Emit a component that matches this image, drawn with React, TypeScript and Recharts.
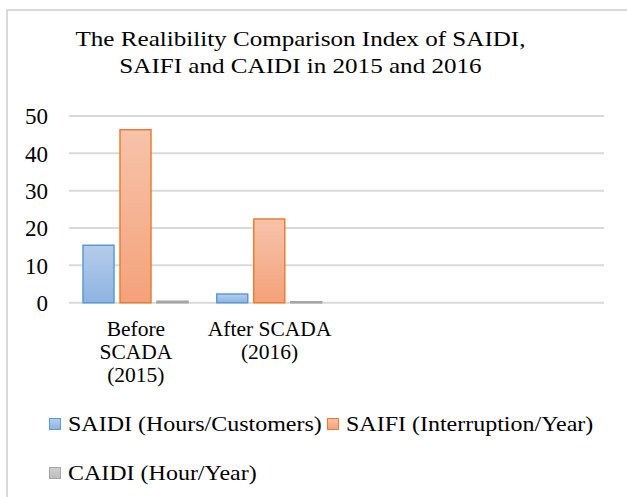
import React from "react";
import { BarChart, Bar, XAxis, YAxis, CartesianGrid, Legend } from "recharts";

const categories = ["Before\nSCADA\n(2015)", "After SCADA\n(2016)", "", ""];
const saidi = [15.4, 2.3, null, null];
const saifi = [46.3, 22.4, null, null];
const caidi = [0.4, 0.25, null, null];
const yTicks = [0, 10, 20, 30, 40, 50];

const series = [
  { key: "saidi", name: "SAIDI (Hours/Customers)", stroke: "#5b9bd5", top: "#b5cdeb", bottom: "#8fb3e2" },
  { key: "saifi", name: "SAIFI (Interruption/Year)", stroke: "#ed7d31", top: "#f7c3aa", bottom: "#f4a27a" },
  { key: "caidi", name: "CAIDI (Hour/Year)", stroke: "#a5a5a5", top: "#cfcfcf", bottom: "#bdbdbd" },
];

const data = categories.map((c, i) => ({
  cat: c,
  saidi: saidi[i],
  saifi: saifi[i],
  caidi: caidi[i],
}));

const font = "'Liberation Serif', 'Times New Roman', serif";

function CatTick({ x, y, payload }: any) {
  const lines = String(payload.value).split("\n").filter((l) => l.length);
  return (
    <text x={x} y={y} textAnchor="middle" fontFamily={font} fontSize={21.5} fill="#000">
      {lines.map((l, i) => (
        <tspan key={i} x={x} y={y + 33.6 + i * 23}>{l}</tspan>
      ))}
    </text>
  );
}

function LegendBox() {
  const spots = [
    { left: 49, top: 413 },
    { left: 327, top: 413 },
    { left: 49, top: 461.5 },
  ];
  return (
    <div style={{ position: "relative", width: 627, height: 497 }}>
      {series.map((s, i) => (
        <div key={s.key} style={{ position: "absolute", left: spots[i].left, top: spots[i].top, whiteSpace: "nowrap" }}>
          <div
            style={{
              position: "absolute", left: 0, top: 5, width: 10, height: 10,
              border: `1.5px solid ${s.stroke}`,
              background: `linear-gradient(${s.top}, ${s.bottom})`,
            }}
          />
          <div
            style={{
              position: "absolute", left: 19, top: 0, fontFamily: font, fontSize: 22, lineHeight: "22px",
              color: "#000", transform: "scaleX(1.09)", transformOrigin: "left center",
            }}
          >
            {s.name}
          </div>
        </div>
      ))}
    </div>
  );
}

export default function App() {
  return (
    <div style={{ position: "absolute", left: 0, top: 0, width: 627, height: 497, overflow: "hidden", background: "#fff" }}>
      <div style={{ position: "absolute", left: 6, top: 9, width: 700, height: 600, border: "2px solid #d9d9d9" }} />
      <div
        style={{
          position: "absolute", left: 0, top: 24.5, width: 601, textAlign: "center",
          fontFamily: font, fontSize: 22, lineHeight: "27.6px", color: "#000",
          transform: "scaleX(1.14)", transformOrigin: "300.5px center",
        }}
      >
        The Realibility Comparison Index of SAIDI,
        <br />
        SAIFI and CAIDI in 2015 and 2016
      </div>
      <BarChart
        width={627}
        height={497}
        data={data}
        margin={{ top: 116, right: 23, left: 0, bottom: 94.3 }}
        barSize={31}
        barGap={6}
        style={{ position: "absolute", left: 0, top: 0 }}
      >
        <defs>
          {series.map((s) => (
            <linearGradient key={s.key} id={`g-${s.key}`} x1="0" y1="0" x2="0" y2="1">
              <stop offset="0%" stopColor={s.top} />
              <stop offset="100%" stopColor={s.bottom} />
            </linearGradient>
          ))}
        </defs>
        <CartesianGrid vertical={false} stroke="#d9d9d9" strokeWidth={2} />
        <XAxis
          dataKey="cat"
          height={100}
          axisLine={false}
          tickLine={false}
          tickSize={0}
          tickMargin={0}
          interval={0}
          tick={(p: any) => <CatTick {...p} />}
        />
        <YAxis
          width={69}
          domain={[0, 50]}
          ticks={yTicks}
          axisLine={false}
          tickLine={false}
          tickSize={0}
          tickMargin={21}
          tick={{ fontFamily: font, fontSize: 23, fill: "#000" }}
        />
        <Legend
          layout="horizontal"
          verticalAlign="middle"
          wrapperStyle={{ left: 0, top: 0, width: 627, height: 497 }}
          content={() => <LegendBox />}
        />
        {series.map((s) => (
          <Bar
            key={s.key}
            dataKey={s.key}
            name={s.name}
            fill={`url(#g-${s.key})`}
            stroke={s.stroke}
            strokeWidth={1.5}
            isAnimationActive={false}
          />
        ))}
      </BarChart>
    </div>
  );
}
